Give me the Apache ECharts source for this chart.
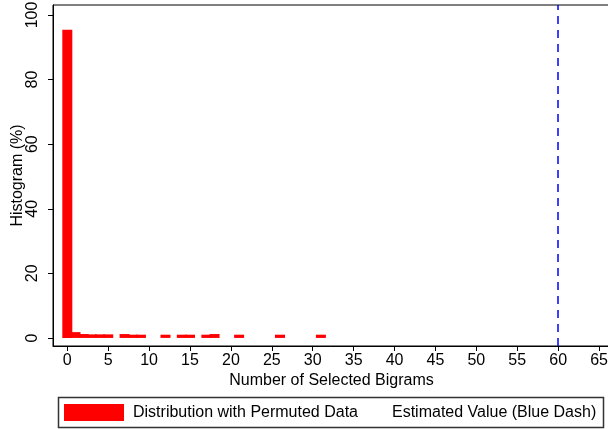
<!DOCTYPE html>
<html><head><meta charset="utf-8">
<script src="https://cdn.jsdelivr.net/npm/echarts@6/dist/echarts.min.js"></script>
<style>html,body{margin:0;padding:0;background:#fff}#c{width:608px;height:429px}</style>
</head><body><div id="c"></div>
<script>
// ---- data ----
const binValues = [0, 1, 2, 3, 4, 5, 7, 8, 9, 12, 14, 15, 17, 18, 21, 26, 31];
const percents  = [95.4, 1.8, 1.2, 1.1, 1.1, 1.1, 1.2, 1.0, 1.0, 1.0, 1.0, 1.0, 1.0, 1.2, 1.0, 1.0, 1.0];
const estimatedValue = 60;
const xTicks = [0, 5, 10, 15, 20, 25, 30, 35, 40, 45, 50, 55, 60, 65];
const yTicks = [0, 20, 40, 60, 80, 100];
const seriesNames = ['Distribution with Permuted Data', 'Estimated Value (Blue Dash)'];
const xTitle = 'Number of Selected Bigrams';
const yTitle = 'Histogram (%)';

const FONT = '"Liberation Sans", Arial, sans-serif';
const chart = echarts.init(document.getElementById('c'), null, {renderer: 'canvas'});
const barData = binValues.map((v, i) => [v, percents[i]]);

chart.setOption({
  animation: false,
  backgroundColor: '#fff',
  textStyle: {fontFamily: FONT},
  grid: {left: 53, top: 5, right: -2, bottom: 83, show: true, borderColor: '#000', borderWidth: 1,
         containLabel: false, outerBoundsMode: 'none'},
  xAxis: {
    type: 'value', min: -1.75, max: 66.34,
    name: xTitle, nameLocation: 'middle', nameGap: 27, nameMoveOverlap: false,
    nameTextStyle: {fontSize: 16, color: '#000', fontFamily: FONT},
    axisLine: {show: true, onZero: false, lineStyle: {color: '#000', width: 1}},
    axisTick: {show: true, length: 5, inside: false, customValues: xTicks, lineStyle: {color: '#000'}},
    axisLabel: {show: true, customValues: xTicks, fontSize: 16, color: '#000', margin: 7, fontFamily: FONT},
    splitLine: {show: false}
  },
  yAxis: {
    type: 'value', min: -2.5, max: 103.1,
    name: yTitle, nameLocation: 'middle', nameGap: 27, nameRotate: 90, nameMoveOverlap: false,
    nameTextStyle: {fontSize: 16, color: '#000', fontFamily: FONT},
    axisLine: {show: true, onZero: false, lineStyle: {color: '#000', width: 1}},
    axisTick: {show: true, length: 5, inside: false, customValues: yTicks, lineStyle: {color: '#000'}},
    axisLabel: {show: true, customValues: yTicks, rotate: 90, fontSize: 16, color: '#000', margin: 12, fontFamily: FONT},
    splitLine: {show: false}
  },
  legend: [
    {
      left: 64, top: 404, padding: 0, itemWidth: 60, itemHeight: 17, icon: 'rect',
      data: [seriesNames[0]],
      textStyle: {fontSize: 16, color: '#000', fontFamily: FONT, padding: [0, 0, 0, 4]}
    },
    {
      left: 387, top: 404, padding: 0, itemWidth: 0, itemHeight: 17,
      data: [{name: seriesNames[1], icon: 'rect', itemStyle: {opacity: 0}}],
      textStyle: {fontSize: 16, color: '#000', fontFamily: FONT}
    }
  ],
  graphic: [{
    type: 'rect', silent: true,
    shape: {x: 58.5, y: 397.5, width: 545, height: 30},
    style: {fill: 'none', stroke: '#333', lineWidth: 1.5}
  }],
  series: [
    {
      name: seriesNames[0], type: 'bar', data: barData, barWidth: 10,
      itemStyle: {color: '#ff0000'}
    },
    {
      name: seriesNames[1], type: 'line', data: [], color: '#0000ff',
      markLine: {
        silent: true, symbol: 'none', label: {show: false},
        lineStyle: {color: '#0000ff', type: [8, 6], width: 1.5},
        data: [{xAxis: estimatedValue}]
      }
    }
  ]
});
</script></body></html>
